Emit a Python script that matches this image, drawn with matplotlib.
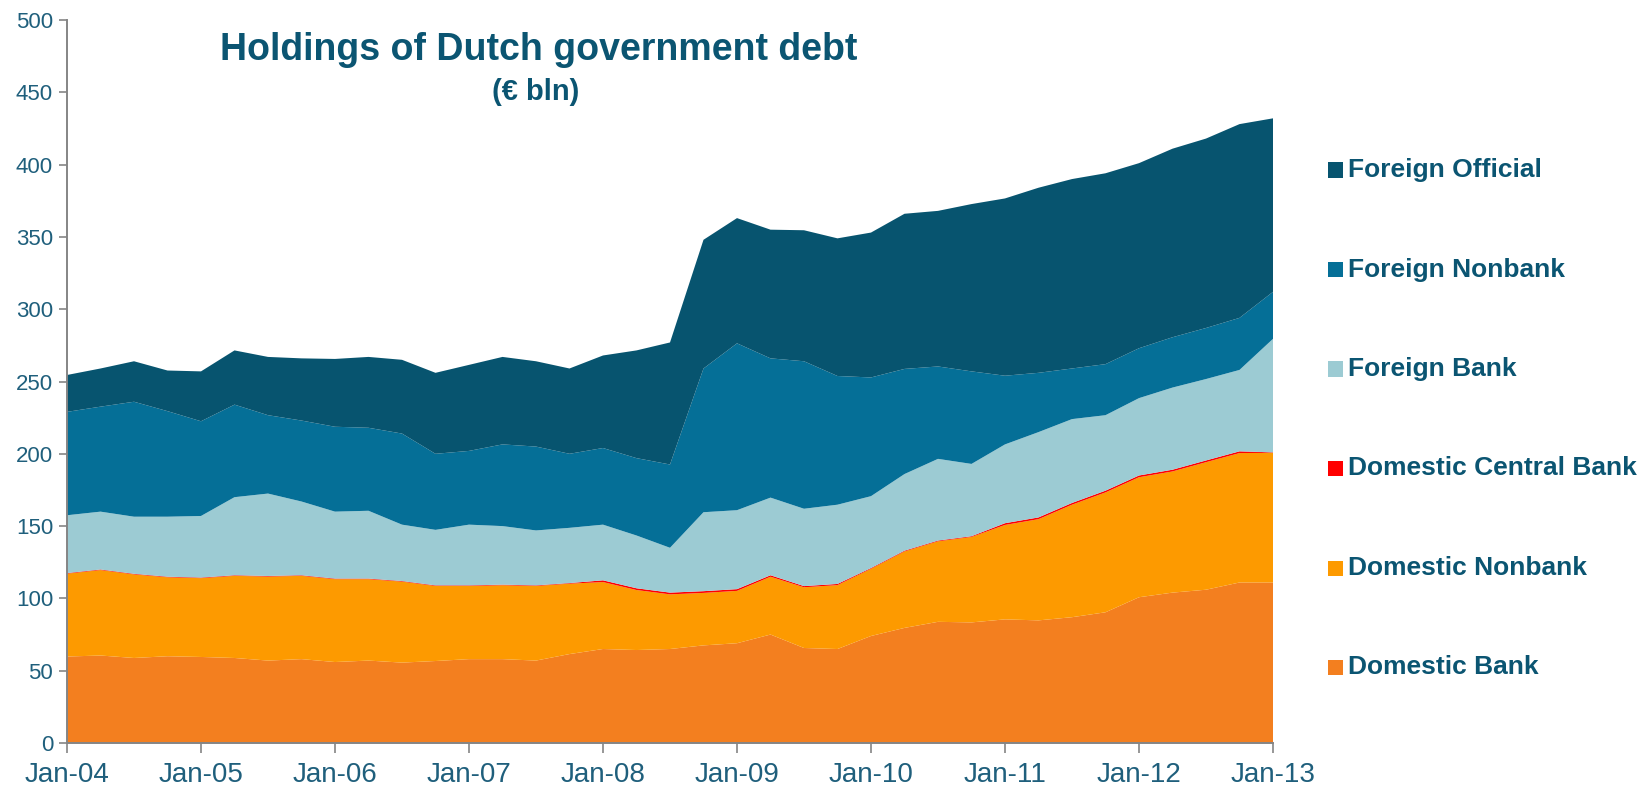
import numpy as np
import matplotlib
matplotlib.use("Agg")
import matplotlib.pyplot as plt
from matplotlib.patches import Rectangle

plt.rcParams['font.family'] = ['Liberation Sans', 'DejaVu Sans']

# Quarterly observations, Jan-04 .. Jan-13
quarters = [f"{m}-{y:02d}" for y in range(4, 13) for m in ("Jan", "Apr", "Jul", "Oct")] + ["Jan-13"]

domestic_bank = [59.8, 60.5, 58.8, 60.0, 59.5, 58.8, 57.0, 58.0, 56.0, 57.0, 55.6, 56.7,
                 58.0, 58.0, 57.0, 61.5, 65.0, 64.3, 65.0, 67.5, 69.0, 75.0, 65.7, 65.0,
                 74.0, 79.6, 83.8, 83.4, 85.5, 84.8, 87.0, 90.4, 100.8, 104.0, 106.0, 111.0,
                 111.0]
domestic_nonbank = [57.3, 59.1, 57.8, 54.6, 54.5, 56.8, 58.1, 57.6, 57.3, 56.3, 56.0, 51.9,
                    50.6, 51.1, 51.6, 48.7, 46.3, 41.5, 37.8, 36.3, 36.2, 40.0, 42.0, 44.2,
                    46.5, 52.9, 55.7, 59.1, 65.3, 70.0, 77.8, 82.9, 83.0, 83.8, 88.2, 89.5,
                    89.7]
domestic_central_bank = [0.4, 0.4, 0.4, 0.4, 0.4, 0.4, 0.4, 0.4, 0.4, 0.4, 0.4, 0.4,
                         0.4, 0.4, 0.4, 0.4, 1.2, 1.2, 1.2, 1.2, 1.2, 1.0, 0.8, 0.8,
                         0.5, 0.5, 0.5, 0.5, 1.2, 1.2, 1.2, 1.2, 1.2, 1.2, 1.2, 1.2,
                         0.3]
foreign_bank = [40.0, 40.0, 39.5, 41.5, 42.6, 54.0, 57.0, 51.0, 46.3, 46.9, 39.0, 38.4,
                42.0, 40.5, 38.0, 38.2, 38.5, 36.5, 31.0, 54.6, 54.6, 53.7, 53.5, 54.8,
                49.7, 53.0, 56.5, 50.0, 54.5, 59.0, 58.0, 52.2, 53.5, 56.8, 56.3, 56.3,
                78.5]
foreign_nonbank = [71.5, 72.6, 79.5, 73.0, 65.5, 64.0, 54.2, 56.0, 58.7, 57.4, 63.0, 52.6,
                   51.0, 56.5, 58.0, 51.2, 53.0, 53.5, 57.6, 99.4, 115.4, 96.3, 102.0, 89.0,
                   82.1, 72.7, 63.9, 64.0, 47.5, 41.0, 35.0, 35.3, 34.5, 34.8, 35.3, 36.0,
                   32.5]
foreign_official = [25.5, 26.4, 28.0, 28.1, 34.5, 37.5, 40.3, 43.0, 46.9, 49.0, 51.0, 56.0,
                    59.5, 60.5, 59.0, 59.0, 64.0, 74.5, 84.4, 89.0, 86.6, 89.0, 90.6, 95.2,
                    100.2, 107.3, 107.6, 115.7, 122.6, 128.0, 131.0, 132.0, 128.0, 130.4, 131.0, 134.0,
                    120.0]

series_names = ["Domestic Bank", "Domestic Nonbank", "Domestic Central Bank",
                "Foreign Bank", "Foreign Nonbank", "Foreign Official"]
series_colors = ["#f37f1f", "#fd9a00", "#ff0000", "#9ccbd3", "#056f97", "#07546f"]

text_color = "#0b5572"
tick_color = "#1f5f7c"

fig = plt.figure(figsize=(16.44, 7.89), dpi=100)
ax = fig.add_axes([67 / 1644, 1 - 743 / 789, (1273 - 67) / 1644, (743 - 20) / 789])

x = np.arange(len(quarters))
ax.stackplot(x, domestic_bank, domestic_nonbank, domestic_central_bank,
             foreign_bank, foreign_nonbank, foreign_official,
             colors=series_colors, linewidth=0, antialiased=True)

ax.set_xlim(x[0], x[-1])
ax.set_ylim(0, 500)
ax.set_yticks(range(0, 501, 50))
ax.set_xticks(x[::4])
ax.set_xticklabels(quarters[::4])

for side in ("top", "right"):
    ax.spines[side].set_visible(False)
for side in ("left", "bottom"):
    ax.spines[side].set_color("#858585")
    ax.spines[side].set_linewidth(1.4)

ax.tick_params(axis="y", direction="out", length=6, width=1.2, color="#858585",
               labelsize=16, labelcolor=tick_color, pad=4)
ax.tick_params(axis="x", direction="out", length=7, width=1.2, color="#858585",
               labelsize=20, labelcolor=tick_color, pad=7)

# Title block inside the plot area
fig.text(539 / 1644, 1 - 50 / 789, "Holdings of Dutch government debt",
         ha="center", va="center", fontsize=27, fontweight="bold", color=text_color)
fig.text(536 / 1644, 1 - 92 / 789, "(€ bln)",
         ha="center", va="center", fontsize=21, fontweight="bold", color=text_color)

# Legend, top to bottom in stacking order
legend_rows = [170, 270, 369, 468, 568, 667]
for yrow, name, color in zip(legend_rows, series_names[::-1], series_colors[::-1]):
    fig.patches.append(Rectangle((1328 / 1644, 1 - (yrow + 7.5) / 789), 15 / 1644, 15 / 789,
                                 transform=fig.transFigure, facecolor=color,
                                 edgecolor="none"))
    fig.text(1348 / 1644, 1 - yrow / 789, name, ha="left", va="center",
             fontsize=19, fontweight="bold", color=text_color)

fig.savefig("out.png", dpi=100)
